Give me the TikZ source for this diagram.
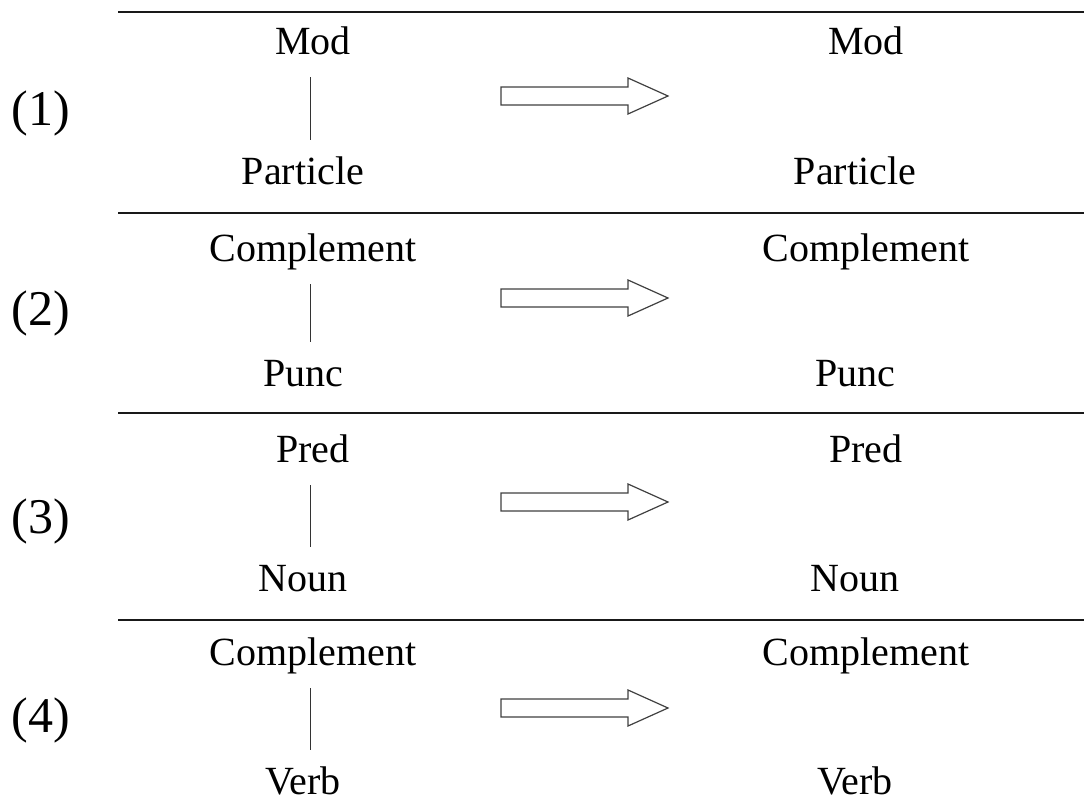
\documentclass[tikz,border=0pt]{standalone}
\usepackage{fontspec}
\setmainfont{Liberation Serif}
\begin{document}
\begin{tikzpicture}[x=1pt,y=-1pt,
  word/.style={anchor=south,inner sep=0pt,text height=30pt,text depth=0pt,
    font=\fontsize{40}{48}\selectfont},
  rowlabel/.style={anchor=base,inner sep=0pt,font=\fontsize{50}{60}\selectfont},
  rule/.style={line width=2.8pt,draw=black!90},
  branch/.style={line width=1pt,draw=black!80,shorten <=22pt,shorten >=15pt},
  arrowline/.style={line width=1.2pt,draw=black!75,fill=white,line join=miter},
  fatarrow/.pic={\draw[arrowline] (0,-9) -- (127,-9) -- (127,-18) -- (167,0)
      -- (127,18) -- (127,9) -- (0,9) -- cycle;}]
\useasboundingbox (0,0) rectangle (1084,808);
% rows: rule y / upper baseline / lower baseline / arrow axis / label baseline / words
\foreach \n/\ry/\ta/\ba/\ay/\ly/\up/\low in {
    1/12/55/185/96/125/Mod/Particle,
    2/213/262/387/298/325/Complement/Punc,
    3/413/463/592/502/533/Pred/Noun,
    4/620/666/795/708/732/Complement/Verb}{
  \coordinate (ruleL\n) at (118,\ry);
  \coordinate (ruleR\n) at (1084,\ry);
  \draw[rule] (ruleL\n) -- (ruleR\n);
  \node[rowlabel] (lab\n) at (41,\ly) {(\n)};
  \node[word] (lt\n) at (313,\ta) {\up};
  \node[word] (lb\n) at (303,\ba) {\low};
  \draw[branch] (lt\n.south -| 310,0) -- (lb\n.north -| 310,0);
  \pic at (501,\ay) {fatarrow};
  \node[word] (rt\n) at (866,\ta) {\up};
  \node[word] (rb\n) at (855,\ba) {\low};
}
\end{tikzpicture}
\end{document}
